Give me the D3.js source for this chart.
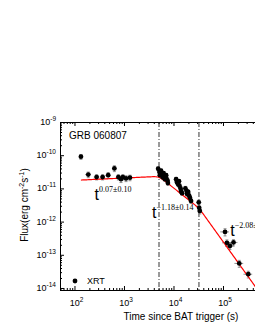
<!DOCTYPE html>
<html>
<head>
<meta charset="utf-8">
<script src="https://d3js.org/d3.v7.min.js"></script>
<style>
body {margin:0; background:#fff;}
svg {font-family: "Liberation Sans", Arial, sans-serif;}
.axis path, .axis line {stroke:#000; stroke-width:1;}
</style>
</head>
<body>
<svg id="chart" width="255" height="330"></svg>
<script>
// XRT light curve (s, erg cm^-2 s^-1)
var time = [135, 190, 280, 370, 480, 640, 770, 870, 950, 1100, 1320,
  4900, 5200, 5300, 5600, 5800, 6000, 6300, 6600, 6700, 7100, 7200, 7600, 7700,
  11300, 11700, 12300, 12900, 13200, 13900, 14200, 14900,
  17400, 18400, 18800, 19800, 20700, 21500, 22600,
  32400, 33000, 34000,
  110000, 120000, 138000, 163000, 213000, 324000];
var flux = [9.0e-11, 2.6e-11, 2.2e-11, 2.2e-11, 2.5e-11, 4.0e-11, 2.2e-11, 1.9e-11, 2.2e-11, 2.0e-11, 2.1e-11,
  3.9e-11, 3.1e-11, 2.5e-11, 3.4e-11, 2.7e-11, 2.2e-11, 2.9e-11, 2.4e-11, 1.9e-11, 2.5e-11, 2.0e-11, 1.7e-11, 1.45e-11,
  1.9e-11, 1.55e-11, 1.35e-11, 1.65e-11, 1.2e-11, 1.0e-11, 8.3e-12, 7.2e-12,
  1.0e-11, 8.4e-12, 6.8e-12, 7.8e-12, 6.0e-12, 5.2e-12, 4.2e-12,
  3.8e-12, 2.6e-12, 2.1e-12,
  4.9e-13, 2.3e-13, 1.84e-13, 2.35e-13, 5.5e-14, 2.6e-14];
var timeErr = [10, 25, 35, 45, 55, 60, 70, 60, 70, 80, 90,
  100, 100, 100, 100, 100, 100, 100, 100, 100, 100, 100, 100, 100,
  150, 150, 150, 150, 150, 150, 150, 150,
  200, 200, 200, 200, 200, 200, 200,
  300, 300, 300,
  22000, 24000, 28000, 33000, 43000, 65000];
var fluxErr = [1.5e-11, 5e-12, 4e-12, 4e-12, 5e-12, 8e-12, 4e-12, 4e-12, 4e-12, 4e-12, 4e-12,
  5e-12, 4e-12, 3e-12, 4e-12, 3e-12, 3e-12, 3e-12, 3e-12, 2.5e-12, 3e-12, 2.5e-12, 2e-12, 2e-12,
  2.5e-12, 2e-12, 2e-12, 2e-12, 1.5e-12, 1.5e-12, 1.2e-12, 1e-12,
  1.5e-12, 1.2e-12, 1e-12, 1.1e-12, 9e-13, 8e-13, 7e-13,
  6e-13, 5e-13, 4e-13,
  1.2e-13, 5e-14, 4e-14, 5e-14, 1.3e-14, 6e-15];

// broken power law fit: slopes, break times, normalisation at first break
var slopes = [0.07, -1.18, -2.08];
var breaks = [5100, 32700];
var fluxAtBreak = 2.3e-11;
var fitRange = [135, 1e6];

var xTicks = [100, 1000, 10000, 100000];
var yTicks = [1e-14, 1e-13, 1e-12, 1e-11, 1e-10, 1e-9];
var slopeLabels = ["0.07\u00b10.10", "-1.18\u00b10.14", "-2.08\u00b10.11"];
var labelAt = [[255, 4.5e-12], [3700, 1.3e-12], [140000, 3.7e-13]];

var svg = d3.select("#chart");
var mLeft = 60, mTop = 122, mBottom = 290, mRight = 272.5;

var x = d3.scaleLog().domain([51, 1e6]).range([mLeft, mRight]);
var y = d3.scaleLog().domain([8.7e-15, 1e-9]).range([mBottom, mTop]);

// minor ticks list
function minorTicks(lo, hi) {
  var out = [];
  for (var e = Math.floor(Math.log10(lo)); e <= Math.ceil(Math.log10(hi)); e++) {
    for (var m = 2; m <= 9; m++) {
      var v = m * Math.pow(10, e);
      if (v >= lo && v <= hi) out.push(v);
    }
  }
  return out;
}

// axes, ticks pointing inward
svg.append("g").attr("class", "axis").attr("transform", "translate(0," + mBottom + ")")
  .call(d3.axisBottom(x).tickValues(xTicks).tickSize(-4).tickFormat(""));
svg.append("g").attr("class", "axis").attr("transform", "translate(0," + mBottom + ")")
  .call(d3.axisBottom(x).tickValues(minorTicks(51, 1e6)).tickSize(-2).tickFormat(""));
svg.append("g").attr("class", "axis").attr("transform", "translate(0," + mTop + ")")
  .call(d3.axisTop(x).tickValues(xTicks).tickSize(-4).tickFormat(""));
svg.append("g").attr("class", "axis").attr("transform", "translate(0," + mTop + ")")
  .call(d3.axisTop(x).tickValues(minorTicks(51, 1e6)).tickSize(-2).tickFormat(""));
svg.append("g").attr("class", "axis").attr("transform", "translate(" + mLeft + ",0)")
  .call(d3.axisLeft(y).tickValues(yTicks).tickSize(-4).tickFormat(""));
svg.append("g").attr("class", "axis").attr("transform", "translate(" + mLeft + ",0)")
  .call(d3.axisLeft(y).tickValues(minorTicks(8.7e-15, 1e-9)).tickSize(-2).tickFormat(""));
svg.selectAll(".axis path").attr("stroke-width", 1.2);

// power-of-ten labels
function powLabel(sel, v) {
  sel.append("tspan").text("10");
  sel.append("tspan").attr("font-size", 6.5).attr("dy", -4).text(Math.round(Math.log10(v)));
}
svg.append("g").selectAll("text").data(xTicks).enter().append("text")
  .attr("x", function(d) { return x(d) + 2; }).attr("y", 306)
  .attr("text-anchor", "middle").attr("font-size", 9)
  .each(function(d) { powLabel(d3.select(this), d); });
svg.append("g").selectAll("text").data(yTicks).enter().append("text")
  .attr("x", 56).attr("y", function(d) { return y(d) + 3; })
  .attr("text-anchor", "end").attr("font-size", 9)
  .each(function(d) { powLabel(d3.select(this), d); });

// axis titles
svg.append("text").attr("x", 181).attr("y", 320).attr("text-anchor", "middle")
  .attr("font-size", 10).text("Time since BAT trigger (s)");
var yl = svg.append("text").attr("transform", "translate(28,205) rotate(-90)")
  .attr("text-anchor", "middle").attr("font-size", 10);
yl.append("tspan").text("Flux(erg cm");
yl.append("tspan").attr("font-size", 7).attr("dy", -4).text("-2");
yl.append("tspan").attr("dy", 4).text("s");
yl.append("tspan").attr("font-size", 7).attr("dy", -4).text("-1");
yl.append("tspan").attr("dy", 4).text(")");

svg.append("text").attr("x", 69).attr("y", 139).attr("font-size", 10).text("GRB 060807");

// break lines
svg.append("g").selectAll("line").data(breaks).enter().append("line")
  .attr("x1", function(d) { return x(d); }).attr("x2", function(d) { return x(d); })
  .attr("y1", mTop).attr("y2", mBottom)
  .attr("stroke", "#000").attr("stroke-width", 0.8).attr("stroke-dasharray", "5,2,1,2");

// error bars
var pts = time.map(function(t, i) {
  return {t: t, f: flux[i], te: timeErr[i], fe: fluxErr[i]};
});
var eb = svg.append("g").attr("stroke", "#777").attr("stroke-width", 0.8);
eb.selectAll(".h").data(pts).enter().append("line")
  .attr("x1", function(d) { return x(d.t - d.te); }).attr("x2", function(d) { return x(d.t + d.te); })
  .attr("y1", function(d) { return y(d.f); }).attr("y2", function(d) { return y(d.f); });
eb.selectAll(".v").data(pts).enter().append("line")
  .attr("x1", function(d) { return x(d.t); }).attr("x2", function(d) { return x(d.t); })
  .attr("y1", function(d) { return y(d.f - d.fe); }).attr("y2", function(d) { return y(d.f + d.fe); });
eb.selectAll(".c").data(pts.concat(pts)).enter().append("line")
  .attr("x1", function(d) { return x(d.t) - 1.5; }).attr("x2", function(d) { return x(d.t) + 1.5; })
  .attr("y1", function(d, i) { return y(i < pts.length ? d.f - d.fe : d.f + d.fe); })
  .attr("y2", function(d, i) { return y(i < pts.length ? d.f - d.fe : d.f + d.fe); });

// fit curve
function fit(t) {
  var lt = Math.log10(t), s = 0.08;
  var lf = Math.log10(fluxAtBreak) + slopes[0] * (lt - Math.log10(breaks[0]));
  lf += (slopes[1] - slopes[0]) * s * Math.log10(1 + Math.pow(10, (lt - Math.log10(breaks[0])) / s));
  lf += (slopes[2] - slopes[1]) * s * Math.log10(1 + Math.pow(10, (lt - Math.log10(breaks[1])) / s));
  return Math.pow(10, lf);
}
var fitT = d3.range(0, 201).map(function(i) {
  return Math.pow(10, Math.log10(fitRange[0]) + i / 200 * (Math.log10(fitRange[1]) - Math.log10(fitRange[0])));
});
svg.append("path").datum(fitT)
  .attr("fill", "none").attr("stroke", "#f00").attr("stroke-width", 1.2)
  .attr("d", d3.line().x(function(d) { return x(d); }).y(function(d) { return y(fit(d)); }));

// points
svg.append("g").selectAll("circle").data(pts).enter().append("circle")
  .attr("cx", function(d) { return x(d.t); }).attr("cy", function(d) { return y(d.f); })
  .attr("r", 2.4).attr("fill", "#000");

// slope labels
svg.append("g").selectAll("text").data(slopeLabels).enter().append("text")
  .attr("x", function(d, i) { return x(labelAt[i][0]); })
  .attr("y", function(d, i) { return y(labelAt[i][1]); })
  .each(function(d) {
    var s = d3.select(this);
    s.append("tspan").attr("font-size", 16).text("t");
    s.append("tspan").attr("font-family", "Liberation Serif, Times New Roman, serif")
      .attr("font-size", 8).attr("dy", -8).text(d.replace("-", "\u2212"));
  });

// legend
svg.append("circle").attr("cx", 75).attr("cy", 281).attr("r", 2.4).attr("fill", "#000");
svg.append("text").attr("x", 87).attr("y", 284).attr("font-size", 9).text("XRT");
</script>
</body>
</html>
